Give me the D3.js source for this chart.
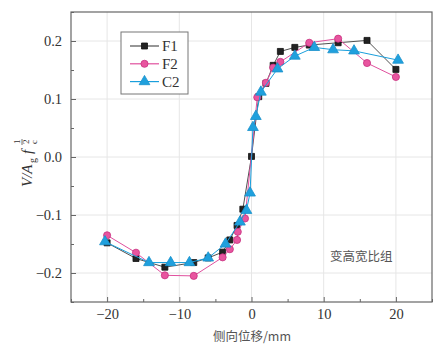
<!DOCTYPE html>
<html><head><meta charset="utf-8">
<script src="https://cdn.jsdelivr.net/npm/d3@7"></script>
<style>body{margin:0;background:#fff}svg{display:block}</style>
</head><body><svg id="c" width="442" height="349"></svg>
<script>
const seriesNames = ["F1", "F2", "C2"];
const f1X = [-20,-16,-12,-8,-6,-4,-3,-2,-1.2,0,1,2,3,4,6,8,12,16,20];
const f1Y = [-0.148,-0.175,-0.190,-0.182,-0.174,-0.164,-0.143,-0.118,-0.090,0.001,0.104,0.127,0.158,0.182,0.189,0.193,0.197,0.201,0.151];
const f2X = [-20,-16,-12,-8,-4,-3,-2,-1.9,-0.9,0.8,2,3,4,8,12,16,20];
const f2Y = [-0.135,-0.165,-0.204,-0.205,-0.173,-0.159,-0.143,-0.129,-0.106,0.103,0.128,0.154,0.164,0.197,0.204,0.162,0.138];
const c2X = [-20.3,-14.2,-11.2,-8.6,-6.0,-3.6,-1.6,-0.7,-0.2,0.2,0.6,1.3,3.6,6.0,8.7,11.3,14.2,20.3];
const c2Y = [-0.146,-0.182,-0.182,-0.182,-0.174,-0.150,-0.112,-0.092,-0.062,0.051,0.070,0.112,0.152,0.174,0.189,0.185,0.183,0.167];
const xTicks = [-20,-10,0,10,20];
const xMinor = [-25,-15,-5,5,15,25];
const yTicks = [-0.2,-0.1,0.0,0.1,0.2];
const yMinor = [-0.25,-0.15,-0.05,0.05,0.15,0.25];
const xLabel = "侧向位移/mm";
const note = "变高宽比组";

const svg = d3.select("#c");
const L=71, R=432, T=12, B=302;
const x = d3.scaleLinear().domain([-25,25]).range([L,R]);
const y = d3.scaleLinear().domain([-0.25,0.25]).range([B,T]);
const serif = "'Liberation Serif','Times New Roman',serif";

// grid
const g = svg.append("g");
g.selectAll(".gx").data(xTicks).join("line").attr("x1",d=>x(d)).attr("x2",d=>x(d)).attr("y1",T).attr("y2",B).attr("stroke","#e6e6e6").attr("stroke-width",1);
g.selectAll(".gy").data(yTicks).join("line").attr("y1",d=>y(d)).attr("y2",d=>y(d)).attr("x1",L).attr("x2",R).attr("stroke","#e6e6e6").attr("stroke-width",1);

// axes
const ax = svg.append("g").attr("transform",`translate(0,${B})`).call(d3.axisBottom(x).tickValues(xTicks).tickSizeInner(-5).tickSizeOuter(0).tickPadding(7).tickFormat(d=>d<0?"\u2212"+Math.abs(d):d));
const axm = svg.append("g").attr("transform",`translate(0,${B})`).call(d3.axisBottom(x).tickValues(xMinor).tickSizeInner(-3).tickSizeOuter(0).tickFormat(""));
const ay = svg.append("g").attr("transform",`translate(${L},0)`).call(d3.axisLeft(y).tickValues(yTicks).tickSizeInner(-5).tickSizeOuter(0).tickPadding(9).tickFormat(d=>{const s=d3.format(".1f")(Math.abs(d));return d<0?"\u2212"+s:s;}));
const aym = svg.append("g").attr("transform",`translate(${L},0)`).call(d3.axisLeft(y).tickValues(yMinor).tickSizeInner(-3).tickSizeOuter(0).tickFormat(""));
[ax,axm,ay,aym].forEach(a=>{a.select(".domain").remove();a.selectAll("line").attr("stroke","#666");a.selectAll("text").attr("font-family",serif).attr("font-size",14.5).attr("fill","#333");});
svg.append("rect").attr("x",L).attr("y",T).attr("width",R-L).attr("height",B-T).attr("fill","none").attr("stroke","#666").attr("stroke-width",1.2);

// series
const series = [
  {name:seriesNames[0], xs:f1X, ys:f1Y, line:"#505050", fill:"#222", stroke:"#111", sym:d3.symbolSquare, size:36},
  {name:seriesNames[1], xs:f2X, ys:f2Y, line:"#e0509e", fill:"#e8559f", stroke:"#c8307f", sym:d3.symbolCircle, size:40},
  {name:seriesNames[2], xs:c2X, ys:c2Y, line:"#1a9fdc", fill:"#1fa0dd", stroke:"#1890cc", sym:d3.symbolTriangle, size:50}
];
const lineGen = d3.line().x(d=>x(d[0])).y(d=>y(d[1]));
series.forEach(s=>{
  const pts = s.xs.map((v,i)=>[v,s.ys[i]]);
  svg.append("path").datum(pts).attr("d",lineGen).attr("fill","none").attr("stroke",s.line).attr("stroke-width",1);
  svg.append("g").selectAll("path").data(pts).join("path")
    .attr("transform",d=>`translate(${x(d[0])},${y(d[1])})`)
    .attr("d",d3.symbol().type(s.sym).size(s.size))
    .attr("fill",s.fill).attr("stroke",s.stroke).attr("stroke-width",0.8);
});

// legend
const lg = svg.append("g");
lg.append("rect").attr("x",121).attr("y",32).attr("width",67).attr("height",62).attr("fill","#fff").attr("stroke","#777").attr("stroke-width",1);
series.forEach((s,i)=>{
  const yy = 46 + i*17.8;
  lg.append("line").attr("x1",130).attr("x2",159).attr("y1",yy).attr("y2",yy).attr("stroke",s.line).attr("stroke-width",1.2);
  lg.append("path").attr("transform",`translate(144.5,${yy})`).attr("d",d3.symbol().type(s.sym).size(s.size)).attr("fill",s.fill).attr("stroke",s.stroke).attr("stroke-width",0.8);
  lg.append("text").attr("x",162).attr("y",yy+5).attr("font-family",serif).attr("font-size",15).attr("fill","#333").text(s.name);
});

// x label
svg.append("text").attr("x",252).attr("y",341).attr("text-anchor","middle").attr("font-family","'Noto Sans CJK SC',sans-serif").attr("font-size",12.5).attr("fill","#555").text(xLabel);

// note
svg.append("text").attr("x",330).attr("y",261).attr("font-family","'Noto Sans CJK SC',sans-serif").attr("font-size",12.5).attr("fill","#555").text(note);

// y label
const yl = svg.append("g").attr("transform","translate(27,157) rotate(-90)").attr("font-family",serif).attr("fill","#333");
yl.append("text").attr("x",-30).attr("y",5).attr("font-size",15).attr("font-style","italic").text("V/A");
yl.append("text").attr("x",-6).attr("y",9).attr("font-size",10).text("g");
yl.append("text").attr("x",3).attr("y",5).attr("font-size",15).attr("font-style","italic").text("f");
yl.append("text").attr("x",13).attr("y",-7).attr("font-size",9).text("1");
yl.append("line").attr("x1",12).attr("x2",18).attr("y1",-5).attr("y2",-5).attr("stroke","#333").attr("stroke-width",0.7);
yl.append("text").attr("x",13).attr("y",2).attr("font-size",9).text("2");
yl.append("text").attr("x",13).attr("y",10).attr("font-size",9).text("c");
</script></body></html>
